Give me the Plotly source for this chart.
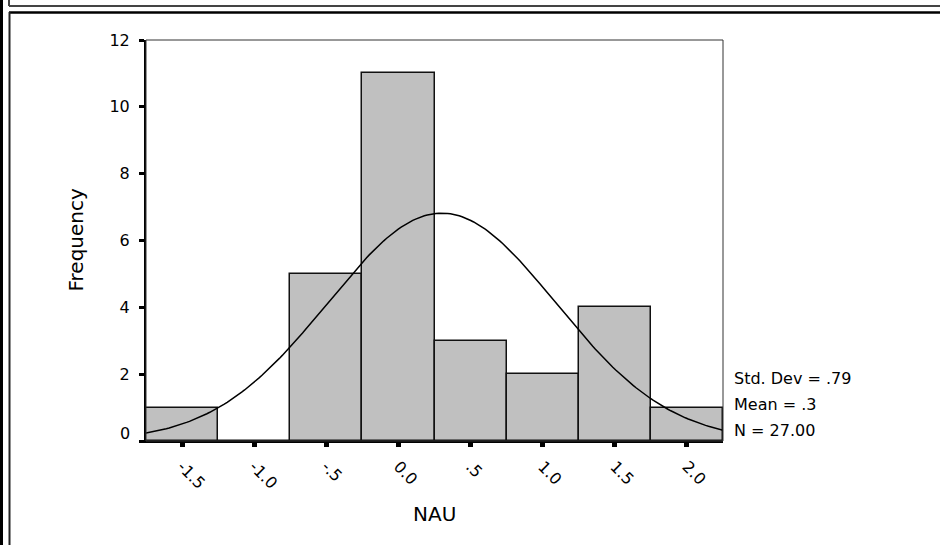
import math
import plotly.graph_objects as go

# Histogram of NAU (bin width 0.5)
bin_centers = [-1.5, -1.0, -0.5, 0.0, 0.5, 1.0, 1.5, 2.0]
frequencies = [1, 0, 5, 11, 3, 2, 4, 1]
x_tick_vals = [-1.5, -1.0, -0.5, 0.0, 0.5, 1.0, 1.5, 2.0]
x_tick_text = ["-1.5", "-1.0", "-.5", "0.0", ".5", "1.0", "1.5", "2.0"]
y_tick_vals = [0, 2, 4, 6, 8, 10, 12]
y_tick_text = ["", "2", "4", "6", "8", "10", "12"]

# Summary statistics shown beside the chart
std_dev = 0.79
mean = 0.3
n_cases = 27
bin_width = 0.5
stats_lines = ["Std. Dev = .79", "Mean = .3", "N = 27.00"]

x_min, x_max = -1.75, 2.25
y_min, y_max = 0, 12

# Page geometry (pixels)
W, H = 940, 545
L, R, T, B = 146, 723, 40, 441


def px(x):
    return (x - L) / (R - L)


def py(y):
    return (B - y) / (B - T)


# Fitted normal curve scaled to counts per bin
n_pts = 200
curve_x = [x_min + (x_max - x_min) * i / (n_pts - 1) for i in range(n_pts)]
scale = n_cases * bin_width / (std_dev * math.sqrt(2 * math.pi))
curve_y = [scale * math.exp(-0.5 * ((v - mean) / std_dev) ** 2) for v in curve_x]

FONT = "DejaVu Sans, Arial, sans-serif"
TICK_SIZE = 16

fig = go.Figure()
fig.add_trace(go.Bar(
    x=bin_centers, y=frequencies, width=bin_width,
    marker=dict(color="#c0c0c0", line=dict(color="#111111", width=1.5)),
    hoverinfo="x+y",
))
fig.add_trace(go.Scatter(
    x=curve_x, y=curve_y, mode="lines",
    line=dict(color="black", width=1.5), hoverinfo="skip",
))

annotations = [
    dict(text="Frequency", x=px(75), y=0.5, xref="paper", yref="paper",
         textangle=-90, showarrow=False, font=dict(size=20, family=FONT, color="black"),
         xanchor="center", yanchor="middle"),
    dict(text="NAU", x=0.5, y=py(514), xref="paper", yref="paper",
         showarrow=False, font=dict(size=20, family=FONT, color="black"),
         xanchor="center", yanchor="middle"),
    # zero label on the frequency axis sits slightly above its tick
    dict(text="0", x=px(132), y=0, xref="paper", yref="y", yshift=8,
         showarrow=False, font=dict(size=TICK_SIZE, family=FONT, color="black"),
         xanchor="right", yanchor="middle"),
]
for i, line in enumerate(stats_lines):
    annotations.append(dict(
        text=line, x=px(732), y=py(378 + 26 * i), xref="paper", yref="paper",
        showarrow=False, font=dict(size=16, family=FONT, color="black"),
        xanchor="left", yanchor="middle"))


def hline(y, x0, x1, color, width):
    return dict(type="line", xref="paper", yref="paper", x0=px(x0), x1=px(x1),
                y0=py(y), y1=py(y), line=dict(color=color, width=width))


def vline(x, y0, y1, color, width):
    return dict(type="line", xref="paper", yref="paper", x0=px(x), x1=px(x),
                y0=py(y0), y1=py(y1), line=dict(color=color, width=width))


shapes = [
    # plot frame (thin top/right edges)
    dict(type="rect", xref="paper", yref="paper", x0=0, x1=1, y0=0, y1=1,
         line=dict(color="#333333", width=1), layer="above"),
    # outer window frame
    vline(1.5, 0, 545, "black", 3),
    hline(6, 9, 940, "#444444", 2),
    vline(9, 0, 6, "#444444", 2),
    hline(12.5, 9, 940, "black", 2.5),
    vline(9.5, 12, 545, "#222222", 2),
]

fig.update_layout(
    width=W, height=H,
    margin=dict(l=L, r=W - R, t=T, b=H - B),
    paper_bgcolor="white", plot_bgcolor="white",
    showlegend=False, bargap=0,
    font=dict(family=FONT, size=14, color="black"),
    annotations=annotations, shapes=shapes,
    xaxis=dict(range=[x_min, x_max], tickmode="array", tickvals=x_tick_vals,
               ticktext=x_tick_text, tickangle=45, ticks="outside", ticklen=4,
               tickwidth=5, tickcolor="black", showline=True, linewidth=2,
               linecolor="black", showgrid=False, zeroline=False,
               ticklabelstandoff=4,
               tickfont=dict(size=TICK_SIZE, family=FONT)),
    yaxis=dict(range=[y_min, y_max], tickmode="array", tickvals=y_tick_vals,
               ticktext=y_tick_text, ticks="outside", ticklen=5, tickwidth=3,
               tickcolor="black", showline=True, linewidth=2, linecolor="black",
               showgrid=False, zeroline=False, ticklabelstandoff=6,
               tickfont=dict(size=TICK_SIZE, family=FONT)),
)

fig.write_html("out.html")
